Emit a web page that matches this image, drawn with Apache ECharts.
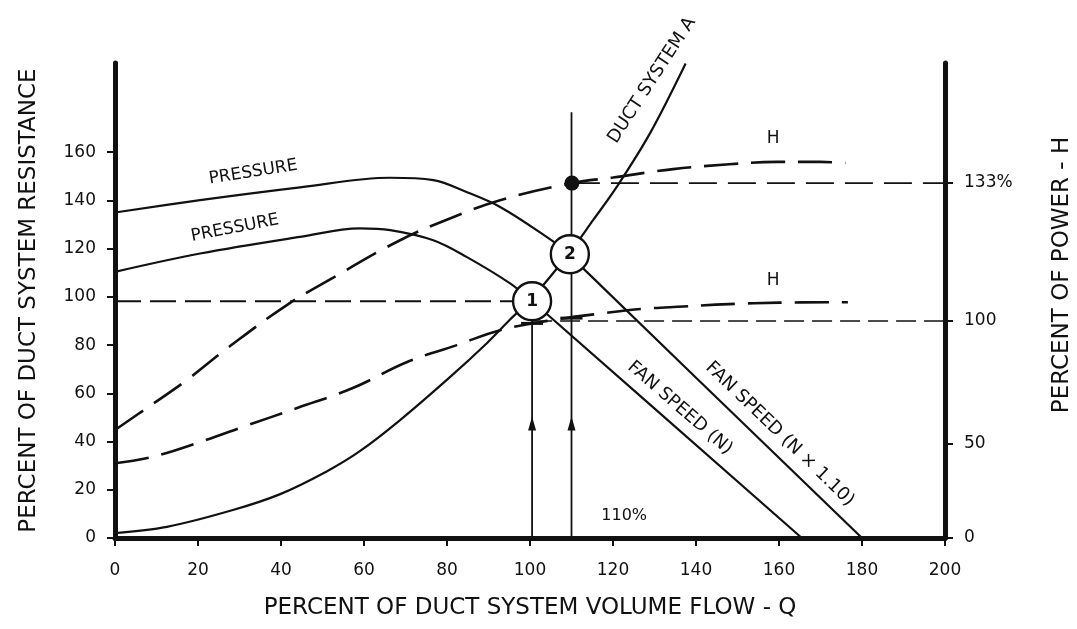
<!DOCTYPE html>
<html>
<head>
<meta charset="utf-8">
<script src="https://cdn.jsdelivr.net/npm/echarts@6/dist/echarts.min.js"></script>
<style>
html,body{margin:0;padding:0;background:#fff;}
#chart{width:1077px;height:629px;}
</style>
</head>
<body>
<div id="chart"></div>
<script>
// ---------- data ----------
const flowTicks = [0, 20, 40, 60, 80, 100, 120, 140, 160, 180, 200];
const resistanceTicks = [0, 20, 40, 60, 80, 100, 120, 140, 160];
// right axis is non-linear: tick positions expressed on the resistance scale
const powerTickPositions = [0, 39, 90, 147.2];
const powerTickLabels = ['0', '50', '100', '133%'];

// fan curve at speed N x 1.10 (upper PRESSURE)
const pressureN110 = [[0,135],[20.5,140.1],[44.6,145.4],[66.3,149.4],[76.7,148.4],[84.7,143.5],[92.8,137.3],[104,124.9],[109.6,117.7],[113.3,111],[180,0]];
// fan curve at speed N (lower PRESSURE)
const pressureN = [[0,110.4],[20.5,118],[44.6,124.9],[59,128.4],[66.3,127.7],[76.7,123.5],[84.7,116.6],[95.2,105.6],[100.5,98.2],[104.4,92.4],[165.5,0]];
// system curve DUCT SYSTEM A
const ductSystemA = [[0,2],[12.5,4.6],[28.4,11.6],[39.8,18.2],[51,27.6],[59,36],[68.7,48.9],[80.7,66.7],[89.6,80.8],[95.2,90.6],[100.5,99.5],[109.6,118.5],[115.2,131.8],[120.9,145.6],[128.9,167.8],[137.5,196.8]];
// power curves H
const powerN110 = [[0,44.8],[8,54.3],[17.3,65.5],[26.9,78.5],[41.4,96.6],[52.6,108],[68.7,123.5],[80.7,132.5],[92.8,140.1],[110.1,147.2],[120,149.5],[134.5,153],[148,155],[159.5,156],[170,156],[176,155.5]];
const powerN = [[0,31],[8.9,33.6],[20.5,39.8],[32,46.8],[43.9,53.9],[57.3,62.2],[70.4,73],[82.4,80],[92.8,86.2],[105.5,90.4],[118.5,93.4],[127,95],[137,96],[148,97],[160,97.6],[176.6,97.8]];
// reference levels
const pressure100Level = [[0,98.2],[100.5,98.2]];
const power100Level = [[100.5,90],[200,90]];
const power133Level = [[110.1,147.2],[200,147.2]];
// operating points and flow markers
const operatingPoints = [[100.5,98.2],[109.6,117.7]];
const operatingLabels = ['1', '2'];
const powerPoint = [[110.1,147.2]];
const flowLine100 = [[100.5,0],[100.5,98.2]];
const flowLine110 = [[110,0],[110,176.6]];
const arrowMarks = [[100.5,47.5],[110,47.5]];
const crossBars = [[100.5,89],[110,91.2]];

// ---------- chart ----------
const FONT = 'DejaVu Sans';
const INK = '#111';
const chart = echarts.init(document.getElementById('chart'), null, {renderer: 'canvas'});

function lineSeries(data, width, dash, smooth) {
  return {
    type: 'line', data: data, smooth: smooth, symbol: 'none', silent: true,
    lineStyle: {color: INK, width: width, type: dash || 'solid', cap: 'butt', opacity: 1},
    z: 2
  };
}

const annotations = [
  {name: 'PRESSURE', value: [33.3, 151.7], rotate: 9, size: 17},
  {name: 'PRESSURE', value: [28.9, 128.5], rotate: 11, size: 17},
  {name: 'DUCT SYSTEM A', value: [129.4, 189.8], rotate: 57, size: 18},
  {name: 'FAN SPEED (N)', value: [136.1, 53.9], rotate: -41, size: 18},
  {name: 'FAN SPEED (N \u00d7 1.10)', value: [160.2, 43.1], rotate: -44, size: 18},
  {name: '110%', value: [122.7, 9.1], rotate: 0, size: 16},
  {name: 'H', value: [158.6, 165.8], rotate: 0, size: 17},
  {name: 'H', value: [158.6, 106.9], rotate: 0, size: 17}
];

const option = {
  animation: false,
  backgroundColor: '#fff',
  grid: {left: 115, right: 132, top: 63, bottom: 91, containLabel: false, outerBoundsMode: 'none'},
  xAxis: {
    type: 'value', min: 0, max: 200, interval: 20,
    name: 'PERCENT OF DUCT SYSTEM VOLUME FLOW - Q',
    nameLocation: 'middle', nameGap: 59,
    nameTextStyle: {fontFamily: FONT, fontSize: 23, color: INK},
    axisLine: {onZero: false, lineStyle: {color: INK, width: 5}},
    axisTick: {show: true, length: 8, lineStyle: {color: INK, width: 2}, customValues: flowTicks},
    axisLabel: {margin: 24, fontFamily: FONT, fontSize: 17, color: INK, customValues: flowTicks},
    splitLine: {show: false}
  },
  yAxis: [{
    type: 'value', min: 0, max: 197, interval: 20, position: 'left',
    name: 'PERCENT OF DUCT SYSTEM RESISTANCE',
    nameLocation: 'middle', nameGap: 74, nameRotate: 90,
    nameTextStyle: {fontFamily: FONT, fontSize: 23, color: INK},
    axisLine: {show: true, onZero: false, lineStyle: {color: INK, width: 5}},
    axisTick: {show: true, length: 8, lineStyle: {color: INK, width: 2}, customValues: resistanceTicks},
    axisLabel: {margin: 19, fontFamily: FONT, fontSize: 17, color: INK, customValues: resistanceTicks,
      formatter: v => (v <= 160 ? String(v) : '')},
    splitLine: {show: false}
  }, {
    type: 'value', min: 0, max: 197, position: 'right',
    axisLine: {show: true, onZero: false, lineStyle: {color: INK, width: 5}},
    axisTick: {show: true, length: 8, lineStyle: {color: INK, width: 2}, customValues: powerTickPositions},
    axisLabel: {margin: 19, fontFamily: FONT, fontSize: 17, color: INK, customValues: powerTickPositions,
      formatter: v => {
        const i = powerTickPositions.findIndex(p => Math.abs(p - v) < 0.01);
        return i >= 0 ? powerTickLabels[i] : '';
      }},
    splitLine: {show: false}
  }],
  graphic: [{
    type: 'text', x: 1062, y: 275, rotation: Math.PI / 2,
    style: {text: 'PERCENT OF POWER - H', fontFamily: FONT, fontSize: 23, fill: INK,
      align: 'center', verticalAlign: 'middle'}
  }],
  series: [
    lineSeries(pressureN110, 2.2, 'solid', 0.35),
    lineSeries(pressureN, 2.2, 'solid', 0.35),
    lineSeries(ductSystemA, 2.2, 'solid', 0.35),
    lineSeries(powerN110, 2.6, [34, 13], 0.4),
    lineSeries(powerN, 2.6, [34, 13], 0.4),
    lineSeries(pressure100Level, 2, [26, 9], false),
    lineSeries(power100Level, 1.6, [20, 8], false),
    lineSeries(power133Level, 1.6, [28, 11], false),
    lineSeries(flowLine100, 1.8, 'solid', false),
    lineSeries(flowLine110, 1.8, 'solid', false),
    {
      type: 'scatter', data: arrowMarks, symbol: 'triangle', symbolSize: [8, 14],
      itemStyle: {color: INK, opacity: 1}, silent: true, z: 3
    },
    {
      type: 'scatter', data: crossBars, symbol: 'rect', symbolSize: [22, 3],
      itemStyle: {color: INK, opacity: 1}, silent: true, z: 3
    },
    {
      type: 'scatter', data: powerPoint, symbol: 'circle', symbolSize: 15,
      itemStyle: {color: INK, opacity: 1}, silent: true, z: 4
    },
    {
      type: 'scatter', symbol: 'circle', symbolSize: 38, silent: true, z: 5,
      data: operatingPoints.map((p, i) => ({value: p, name: operatingLabels[i]})),
      itemStyle: {color: '#fff', borderColor: INK, borderWidth: 2.4, opacity: 1},
      label: {show: true, position: 'inside', formatter: '{b}', fontFamily: FONT,
        fontSize: 17, fontWeight: 'bold', color: INK}
    },
    {
      type: 'scatter', symbol: 'circle', symbolSize: 0, silent: true, z: 6,
      itemStyle: {color: 'rgba(0,0,0,0)', opacity: 1},
      data: annotations.map(a => ({
        value: a.value, name: a.name,
        label: {rotate: a.rotate, fontSize: a.size}
      })),
      label: {show: true, position: 'inside', formatter: '{b}', fontFamily: FONT,
        color: INK, align: 'center', verticalAlign: 'middle'},
      labelLayout: {hideOverlap: false}
    }
  ]
};
chart.setOption(option);
</script>
</body>
</html>
